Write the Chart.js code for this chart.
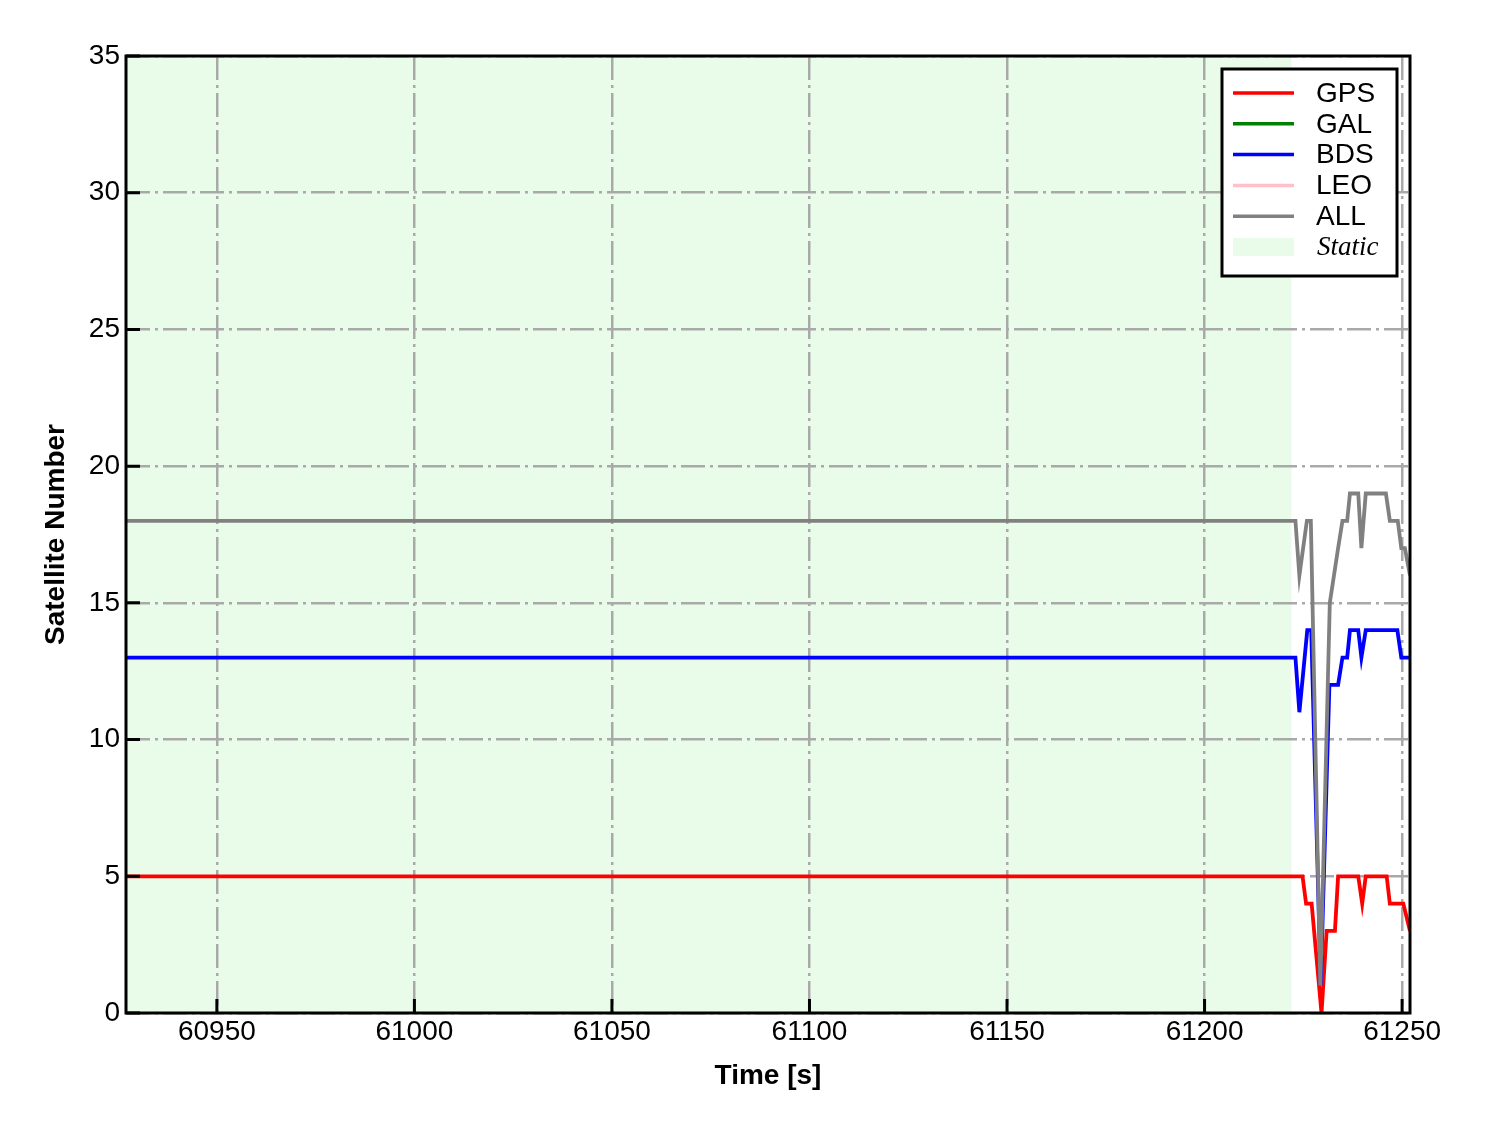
<!DOCTYPE html>
<html>
<head>
<meta charset="utf-8">
<script src="https://cdn.jsdelivr.net/npm/chart.js@4.4.1/dist/chart.umd.min.js"></script>
<style>
  html, body { margin: 0; padding: 0; background: #fff; }
  canvas { display: block; }
</style>
</head>
<body>
<canvas id="chart" width="1488" height="1133"></canvas>
<script>
// axis limits / ticks
const timeMin = 60927;
const timeMax = 61252;
const staticEnd = 61222;
const timeTicks = [60950, 61000, 61050, 61100, 61150, 61200, 61250];
const satTicks = [0, 5, 10, 15, 20, 25, 30, 35];

// satellite counts
const gpsTime = [60927, 61224.8, 61225.7, 61227.1, 61229.6, 61230.9, 61233.0, 61233.8, 61238.9, 61239.9, 61240.8, 61246.1, 61246.9, 61250.3, 61252];
const gpsCount = [5, 5, 4, 4, 0, 3, 3, 5, 5, 4, 5, 5, 4, 4, 3];

const galTime = [];
const galCount = [];

const bdsTime = [60927, 61223, 61224, 61226, 61227, 61229.4, 61231.6, 61233.8, 61234.9, 61236.1, 61236.8, 61238.9, 61239.7, 61240.8, 61248.8, 61249.8, 61252];
const bdsCount = [13, 13, 11, 14, 14, 1, 12, 12, 13, 13, 14, 14, 13, 14, 14, 13, 13];

const leoTime = [];
const leoCount = [];

const allTime = [60927, 61223, 61224, 61225.9, 61226.9, 61229.3, 61231.7, 61233.8, 61234.9, 61236.1, 61236.8, 61238.9, 61239.7, 61240.8, 61245.9, 61246.9, 61248.9, 61249.8, 61250.7, 61252];
const allCount = [18, 18, 16, 18, 18, 1, 15, 17, 18, 18, 19, 19, 17, 19, 19, 18, 18, 17, 17, 16];

const FONT = '"Liberation Sans", Arial, sans-serif';
const staticColor = 'rgb(233,252,233)';

const toPoints = (times, counts) => times.map((t, i) => ({ x: t, y: counts[i] }));

const makeLine = (label, times, counts, color, order) => ({
    label: label,
    data: toPoints(times, counts),
    borderColor: color,
    backgroundColor: color,
    borderWidth: 3.8,
    pointRadius: 0,
    tension: 0,
    fill: false,
    order: order
});

// green static span + white background, under the grid
const staticPlugin = {
    id: 'staticSpan',
    beforeDraw(chart) {
        const { ctx, chartArea, scales } = chart;
        ctx.save();
        ctx.fillStyle = '#fff';
        ctx.fillRect(0, 0, chart.width, chart.height);
        const x0 = scales.x.getPixelForValue(timeMin);
        const x1 = scales.x.getPixelForValue(staticEnd);
        ctx.fillStyle = staticColor;
        ctx.fillRect(x0, chartArea.top, x1 - x0, chartArea.bottom - chartArea.top);
        ctx.restore();
    }
};

// frame, inward ticks and the boxed legend
const framePlugin = {
    id: 'frame',
    afterDraw(chart) {
        const { ctx, chartArea, scales } = chart;
        const { left, right, top, bottom } = chartArea;
        ctx.save();
        ctx.strokeStyle = '#000';
        ctx.lineWidth = 3;
        ctx.beginPath();
        satTicks.forEach(v => {
            const y = scales.y.getPixelForValue(v);
            ctx.moveTo(left, y);
            ctx.lineTo(left + 14, y);
        });
        timeTicks.forEach(v => {
            const x = scales.x.getPixelForValue(v);
            ctx.moveTo(x, bottom);
            ctx.lineTo(x, bottom - 14);
        });
        ctx.stroke();
        ctx.strokeRect(left, top, right - left, bottom - top);

        // legend
        const bw = 175, bh = 207;
        const bx = right - 13 - bw;
        const by = top + 13;
        ctx.fillStyle = '#fff';
        ctx.fillRect(bx, by, bw, bh);
        ctx.strokeRect(bx, by, bw, bh);
        const rowH = 30.8;
        ctx.textBaseline = 'middle';
        ctx.textAlign = 'left';
        chart.data.datasets.forEach((ds, i) => {
            const y = by + 24 + i * rowH;
            ctx.strokeStyle = ds.borderColor;
            ctx.lineWidth = 3.5;
            ctx.beginPath();
            ctx.moveTo(bx + 11, y);
            ctx.lineTo(bx + 72, y);
            ctx.stroke();
            ctx.fillStyle = '#000';
            ctx.font = '28px ' + FONT;
            ctx.fillText(ds.label, bx + 94, y + 1);
        });
        const ys = by + 24 + chart.data.datasets.length * rowH;
        ctx.fillStyle = staticColor;
        ctx.fillRect(bx + 11, ys - 9, 61, 18);
        ctx.fillStyle = '#000';
        ctx.font = 'italic 27px "Liberation Serif", "Times New Roman", serif';
        ctx.fillText('Static', bx + 95, ys + 1);
        ctx.restore();
    }
};

const gridOpts = {
    color: '#a9a9a9',
    lineWidth: 2.5,
    drawTicks: false
};

const chartConf = {
    type: 'line',
    data: {
        datasets: [
            makeLine('GPS', gpsTime, gpsCount, '#ff0000', 5),
            makeLine('GAL', galTime, galCount, '#008000', 4),
            makeLine('BDS', bdsTime, bdsCount, '#0000ff', 3),
            makeLine('LEO', leoTime, leoCount, '#ffc0cb', 2),
            makeLine('ALL', allTime, allCount, '#808080', 1)
        ]
    },
    options: {
        responsive: false,
        animation: false,
        events: [],
        layout: { padding: { left: 0, top: 56, right: 78, bottom: 0 } },
        plugins: {
            legend: { display: false },
            tooltip: { enabled: false }
        },
        scales: {
            x: {
                type: 'linear',
                min: timeMin,
                max: timeMax,
                afterBuildTicks: s => { s.ticks = timeTicks.map(v => ({ value: v })); },
                afterFit: s => { s.height = 120; },
                grid: gridOpts,
                border: { display: false, dash: [24, 5, 3, 5] },
                ticks: {
                    color: '#000',
                    font: { family: FONT, size: 28 },
                    padding: 2,
                    maxRotation: 0,
                    autoSkip: false,
                    callback: v => String(v)
                },
                title: {
                    display: true,
                    text: 'Time [s]',
                    color: '#000',
                    font: { family: FONT, size: 28, weight: 'bold' },
                    padding: { top: 0, bottom: 40 }
                }
            },
            y: {
                type: 'linear',
                min: 0,
                max: 35,
                afterBuildTicks: s => { s.ticks = satTicks.map(v => ({ value: v })); },
                afterFit: s => { s.width = 126; },
                grid: gridOpts,
                border: { display: false, dash: [24, 5, 3, 5] },
                ticks: {
                    color: '#000',
                    font: { family: FONT, size: 28 },
                    padding: 6
                },
                title: {
                    display: true,
                    text: 'Satellite Number',
                    color: '#000',
                    font: { family: FONT, size: 28, weight: 'bold' },
                    padding: { top: 39, bottom: 0 }
                }
            }
        }
    },
    plugins: [staticPlugin, framePlugin]
};

const chart = new Chart(document.getElementById('chart'), chartConf);
</script>
</body>
</html>
